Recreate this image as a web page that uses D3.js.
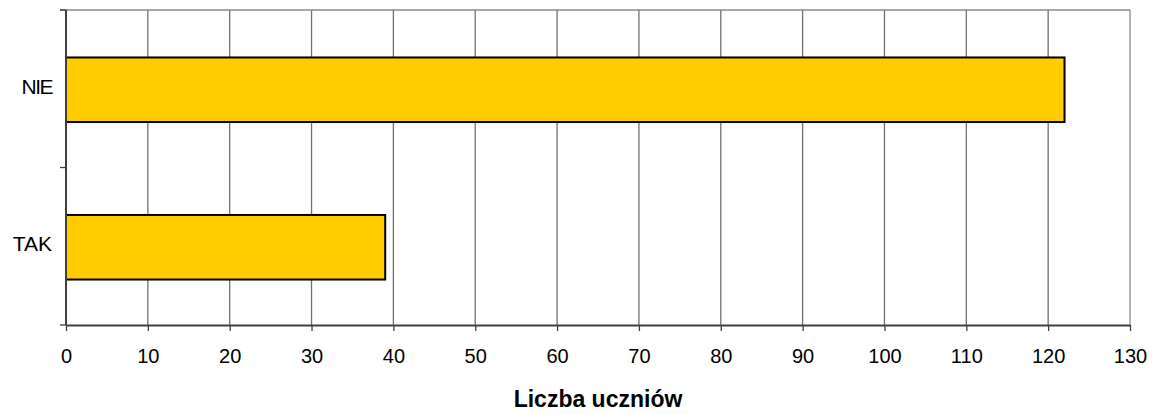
<!DOCTYPE html>
<html>
<head>
<meta charset="utf-8">
<script src="https://cdn.jsdelivr.net/npm/d3@7"></script>
<style>
html,body{margin:0;padding:0;background:#fff;}
svg{display:block;}
text{font-family:"Liberation Sans",Arial,sans-serif;fill:#000;}
</style>
</head>
<body>
<svg id="chart" width="1159" height="414"></svg>
<script>
const categories = ["NIE", "TAK"];
const values = [122, 39];
const xTicks = [0,10,20,30,40,50,60,70,80,90,100,110,120,130];
const xTitle = "Liczba uczniów";

const W = 1159, H = 414;
const m = {left: 66, right: 29, top: 10, bottom: 89};
const svg = d3.select("#chart");
const x = d3.scaleLinear().domain([0,130]).range([m.left, W - m.right]);
const y = d3.scaleBand().domain(categories).range([m.top, H - m.bottom]).padding(0);
const barFrac = 0.41;

// gridlines
svg.append("g").selectAll("line").data(xTicks.filter(d => d > 0 && d < 130)).join("line")
  .attr("x1", d => x(d)).attr("x2", d => x(d))
  .attr("y1", m.top).attr("y2", H - m.bottom)
  .attr("stroke", "#707070").attr("stroke-width", 1.3);

// top and right border
svg.append("line").attr("x1", m.left - 6).attr("x2", x(130)).attr("y1", m.top).attr("y2", m.top)
  .attr("stroke", "#8a8a8a").attr("stroke-width", 1.3);
svg.append("line").attr("x1", x(130)).attr("x2", x(130)).attr("y1", m.top).attr("y2", H - m.bottom)
  .attr("stroke", "#8a8a8a").attr("stroke-width", 1.3);

// bars
svg.append("g").selectAll("rect").data(categories).join("rect")
  .attr("x", x(0))
  .attr("y", d => y(d) + y.bandwidth() * (1 - barFrac) / 2 + 1)
  .attr("width", (d, i) => x(values[i]) - x(0))
  .attr("height", y.bandwidth() * barFrac)
  .attr("fill", "#FFCC00").attr("stroke", "#000").attr("stroke-width", 2);

// x axis
const xAxis = d3.axisBottom(x).tickValues(xTicks).tickSize(6).tickPadding(18).tickSizeOuter(0);
const gx = svg.append("g").attr("transform", `translate(0,${H - m.bottom})`).call(xAxis);
gx.select(".domain").attr("stroke", "#404040").attr("stroke-width", 2);
gx.selectAll(".tick line").attr("stroke", "#404040").attr("stroke-width", 1.3);
gx.selectAll(".tick text").style("font-size", "20px").attr("fill", "#000");

// y axis
const gy = svg.append("g");
gy.append("line").attr("x1", m.left).attr("x2", m.left).attr("y1", m.top).attr("y2", H - m.bottom)
  .attr("stroke", "#404040").attr("stroke-width", 2);
const edges = [m.top, ...categories.map(c => y(c) + y.bandwidth())];
gy.selectAll("line.tk").data(edges).join("line").attr("class", "tk")
  .attr("x1", m.left - 6).attr("x2", m.left).attr("y1", d => d).attr("y2", d => d)
  .attr("stroke", "#404040").attr("stroke-width", 1.3);
gy.selectAll("text").data(categories).join("text")
  .attr("x", m.left - 14).attr("y", d => y(d) + y.bandwidth() / 2 - 2.5)
  .attr("text-anchor", "end").attr("dominant-baseline", "central")
  .style("font-size", "21px")
  .style("letter-spacing", d => d === "NIE" ? "-1.5px" : "0px")
  .text(d => d);

// x title
svg.append("text").attr("x", (x(0) + x(130)) / 2).attr("y", 407)
  .attr("text-anchor", "middle").style("font-size", "23px").style("font-weight", "bold")
  .text(xTitle);
</script>
</body>
</html>
